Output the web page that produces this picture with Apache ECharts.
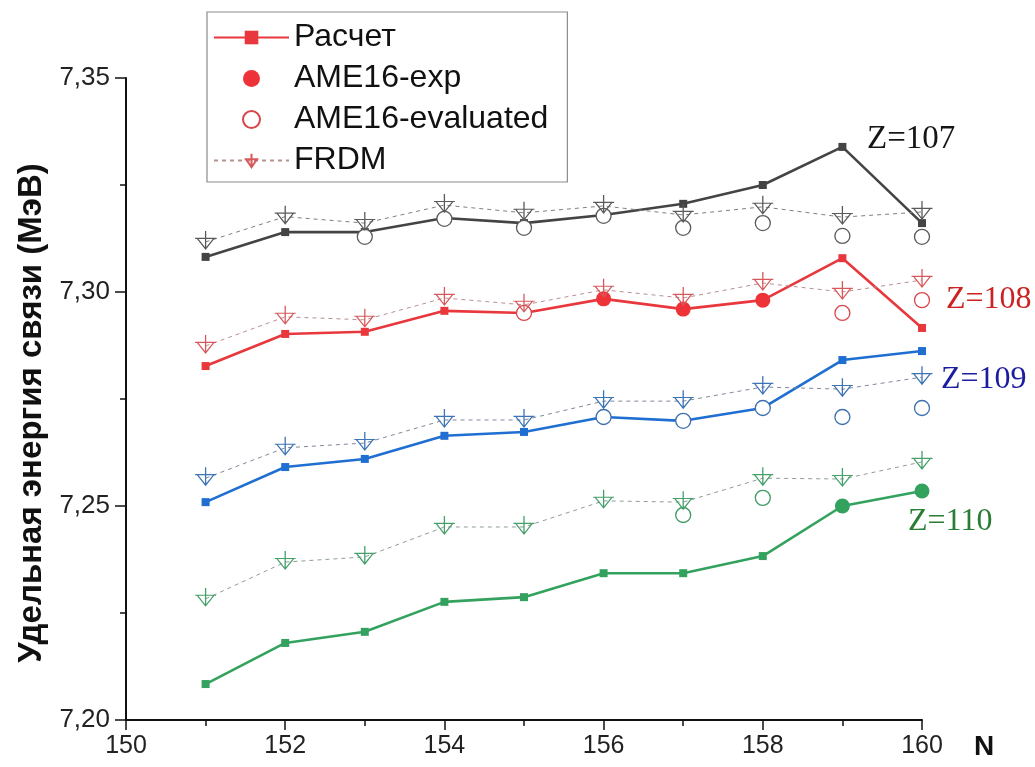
<!DOCTYPE html>
<html><head><meta charset="utf-8">
<script src="https://cdn.jsdelivr.net/npm/echarts@6/dist/echarts.min.js"></script>
<style>html,body{margin:0;padding:0;background:#fff}#c{width:1035px;height:767px}</style>
</head><body><div id="c"></div>
<script>
const N = [151,152,153,154,155,156,157,158,159,160];
const xTicks = [150,152,154,156,158,160];
const yTicks = [7.20,7.25,7.30,7.35];

const calc107 = [7.3082,7.3140,7.3140,7.3173,7.3161,7.3180,7.3206,7.3250,7.3339,7.3161];
const eval107 = [null,null,7.3129,7.3171,7.3150,7.3178,7.3150,7.3161,7.3131,7.3129];
const frdm107 = [7.3117,7.3176,7.3161,7.3203,7.3185,7.3201,7.3180,7.3199,7.3175,7.3187];

const calc108 = [7.2827,7.2902,7.2907,7.2956,7.2951,7.2984,7.2960,7.2981,7.3079,7.2916];
const exp108  = [null,null,null,null,null,7.2984,7.2960,7.2981,null,null];
const eval108 = [null,null,null,null,7.2951,null,null,null,7.2951,7.2981];
const frdm108 = [7.2874,7.2942,7.2935,7.2986,7.2970,7.3005,7.2986,7.3021,7.3000,7.3028];

const calc109 = [7.2509,7.2591,7.2610,7.2664,7.2673,7.2708,7.2699,7.2729,7.2841,7.2862];
const eval109 = [null,null,null,null,null,7.2708,7.2699,7.2729,7.2708,7.2729];
const frdm109 = [7.2565,7.2636,7.2647,7.2701,7.2701,7.2745,7.2745,7.2778,7.2773,7.2801];

const calc110 = [7.2084,7.2180,7.2206,7.2276,7.2287,7.2343,7.2343,7.2383,7.2500,7.2535];
const exp110  = [null,null,null,null,null,null,null,null,7.2500,7.2535];
const eval110 = [null,null,null,null,null,null,7.2479,7.2519,null,null];
const frdm110 = [7.2283,7.2369,7.2381,7.2451,7.2451,7.2512,7.2509,7.2565,7.2563,7.2603];

const legendNames = ['Расчет','AME16-exp','AME16-evaluated','FRDM'];

function pairs(arr){ const out=[]; arr.forEach((v,i)=>{ if(v!==null) out.push([N[i],v]); }); return out; }

const TRI = 'path://M2,7L18,7L10,17Z M0,7L20,7 M10,0L10,17';

function calcSeries(name, data, color){
  return {type:'line', name, data:pairs(data), symbol:'rect', symbolSize:8, z:3,
    lineStyle:{color, width:2.6}, itemStyle:{color}};
}
function expSeries(name, data, color){
  return {type:'scatter', name, data:pairs(data), symbol:'circle', symbolSize:15, z:5,
    itemStyle:{color, opacity:1}};
}
function evalSeries(name, data, color){
  return {type:'scatter', name, data:pairs(data), symbol:'circle', symbolSize:15, z:4,
    itemStyle:{color:'#fff', borderColor:color, borderWidth:1.3, opacity:1}};
}
function frdmSeries(name, data, color, lineColor){
  return {type:'line', name, data:pairs(data), symbol:TRI, symbolSize:[21,18], symbolOffset:[0,-2], z:6,
    lineStyle:{color:lineColor, width:1, type:[4,4]},
    itemStyle:{color:'rgba(0,0,0,0)', borderColor:color, borderWidth:1.2}};
}

const series = [
  calcSeries('Расчет', calc108, '#e8383d'),
  expSeries('AME16-exp', exp108, '#ee3338'),
  evalSeries('AME16-evaluated', eval108, '#d9464a'),
  frdmSeries('FRDM', frdm108, '#d8595c', '#b99090'),

  calcSeries('calc107', calc107, '#444444'),
  evalSeries('eval107', eval107, '#5a5a5a'),
  frdmSeries('frdm107', frdm107, '#5a5a5a', '#7f7f7f'),

  calcSeries('calc109', calc109, '#1f6fd2'),
  evalSeries('eval109', eval109, '#3d6fad'),
  frdmSeries('frdm109', frdm109, '#3d74b5', '#7f8898'),

  calcSeries('calc110', calc110, '#34a25f'),
  expSeries('exp110', exp110, '#34a25f'),
  evalSeries('eval110', eval110, '#3f9a63'),
  frdmSeries('frdm110', frdm110, '#45a06a', '#8f9d95')
];

const serif = '"Liberation Serif","Times New Roman",serif';
const sans = '"Liberation Sans",Arial,sans-serif';

const chart = echarts.init(document.getElementById('c'));
chart.setOption({
  animation:false,
  backgroundColor:'#fff',
  grid:{left:126, right:113, top:78, bottom:47, containLabel:false},
  legend:{
    data:legendNames, orient:'vertical', left:207, top:12,
    itemWidth:75, itemHeight:17, itemGap:8,
    padding:[9,19,5,6],
    borderColor:'#8c8c8c', borderWidth:1.2, backgroundColor:'#fff',
    textStyle:{fontFamily:sans, fontSize:32, color:'#111', lineHeight:33},
    selectedMode:false
  },
  xAxis:{
    type:'value', min:150, max:160, interval:2,
    axisLine:{show:true, onZero:false, lineStyle:{color:'#111', width:2}},
    axisTick:{show:true, length:10, lineStyle:{color:'#111', width:1.5}},
    minorTick:{show:true, splitNumber:2, length:6, lineStyle:{color:'#111', width:1.5}},
    splitLine:{show:false},
    axisLabel:{fontFamily:sans, fontSize:25, color:'#222', margin:14,
      formatter:v=> xTicks.includes(v) ? String(v) : ''}
  },
  yAxis:{
    type:'value', min:7.20, max:7.35, interval:0.05,
    axisLine:{show:true, onZero:false, lineStyle:{color:'#111', width:2}},
    axisTick:{show:true, length:11, lineStyle:{color:'#111', width:1.5}},
    minorTick:{show:true, splitNumber:2, length:6, lineStyle:{color:'#111', width:1.5}},
    splitLine:{show:false},
    axisLabel:{fontFamily:sans, fontSize:26, color:'#222', margin:16,
      formatter:v=>{ const t = yTicks.find(k=>Math.abs(k-v)<1e-6); return t!==undefined ? t.toFixed(2).replace('.',',') : ''; }},
    name:'Удельная энергия связи (МэВ)', nameLocation:'middle', nameGap:78,
    nameTextStyle:{fontFamily:sans, fontSize:33, fontWeight:'bold', color:'#111', padding:[0,28,0,0]}
  },
  graphic:[
    {type:'text', left:974, top:733, style:{text:'N', font:'bold 28px '+sans, fill:'#111'}},
    {type:'text', left:867, top:123, style:{text:'Z=107', font:'33px '+serif, fill:'#161616'}},
    {type:'text', left:946, top:284, style:{text:'Z=108', font:'32px '+serif, fill:'#cc2222'}},
    {type:'text', left:941, top:364, style:{text:'Z=109', font:'32px '+serif, fill:'#1c1ca0'}},
    {type:'text', left:908, top:506, style:{text:'Z=110', font:'32px '+serif, fill:'#2a7d34'}}
  ],
  series
});
</script></body></html>
